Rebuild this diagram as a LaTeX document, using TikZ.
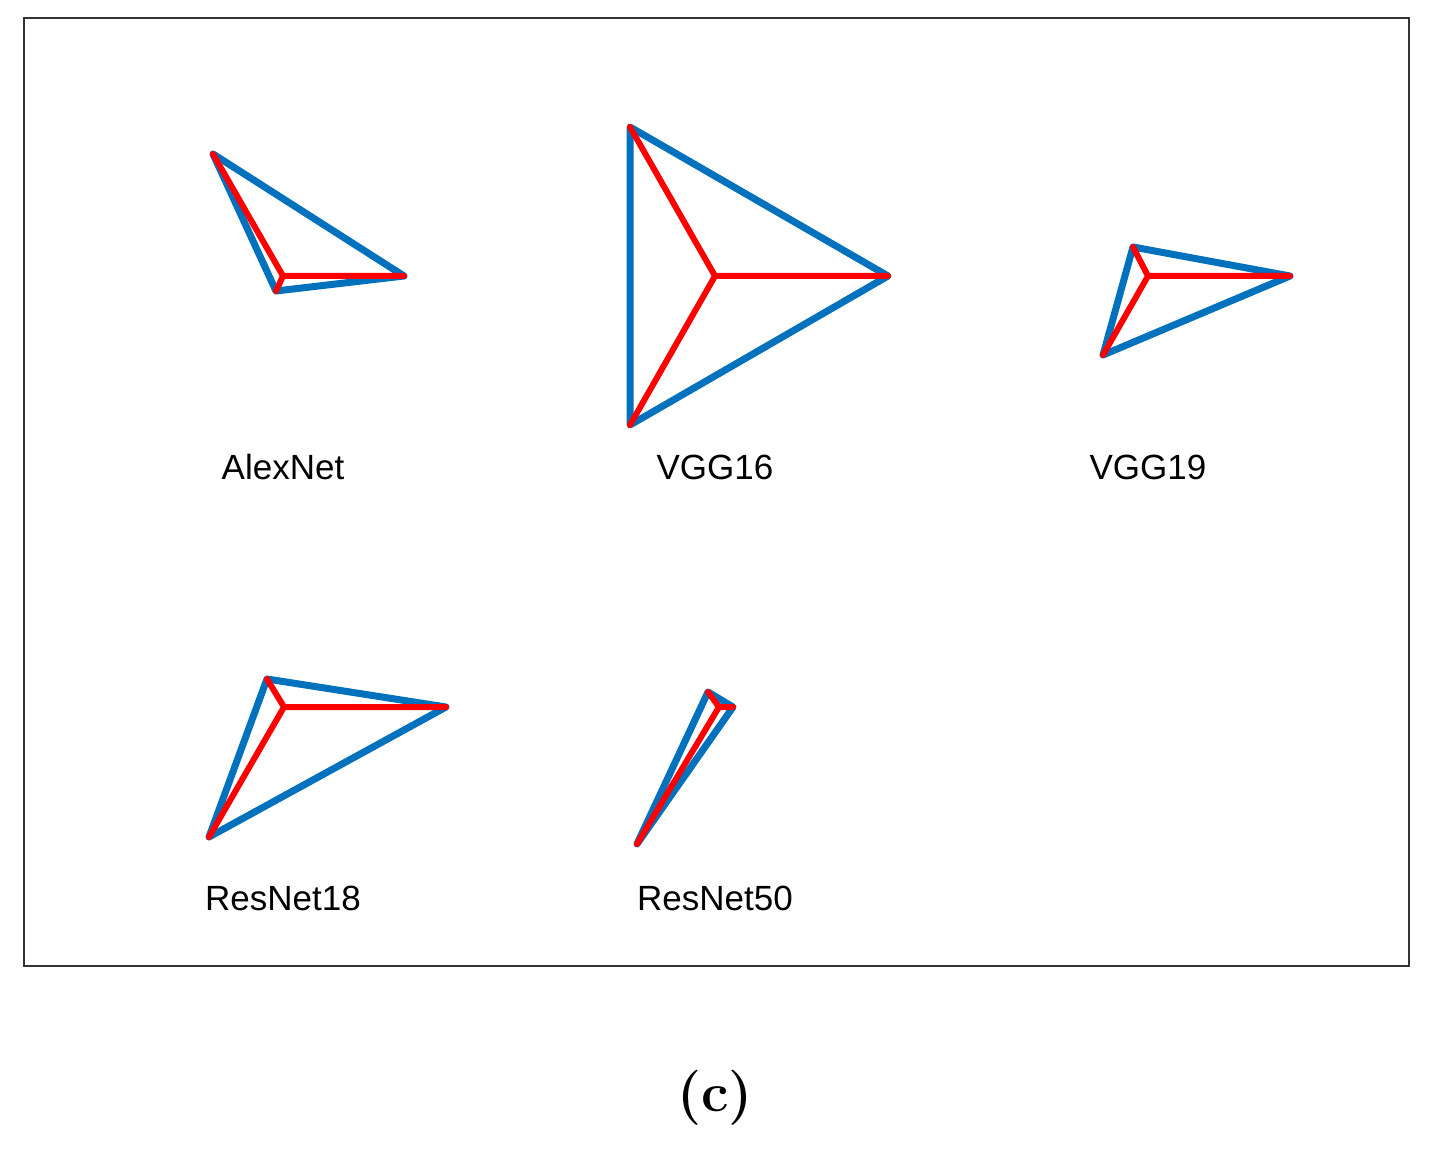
\documentclass[tikz,border=0pt]{standalone}
\usepackage{fontspec}
\newfontfamily\sans{Liberation Sans}
\definecolor{mblue}{RGB}{0,114,189}
\begin{document}
\begin{tikzpicture}[x=1pt,y=-1pt,
  tri/.style={draw=mblue,line width=7pt,line join=round,line cap=round},
  spoke/.style={draw=red,line width=6pt,line cap=round,line join=round},
  lab/.style={font=\sans\fontsize{35}{40}\selectfont,text=black}]
\useasboundingbox (0,0) rectangle (1443,1174);
\draw[line width=2pt,draw=black!80] (24,18) rectangle (1409,966);
% AlexNet
\coordinate (a0) at (283,276); \coordinate (a1) at (213,154); \coordinate (a2) at (404,276); \coordinate (a3) at (276,291);
\draw[tri] (a1)--(a2)--(a3)--cycle;
\draw[spoke] (a1)--(a0)--(a2) (a0)--(a3);
% VGG16
\coordinate (b0) at (715,276); \coordinate (b1) at (630,127); \coordinate (b2) at (888,276); \coordinate (b3) at (630,425);
\draw[tri] (b1)--(b2)--(b3)--cycle;
\draw[spoke] (b1)--(b0)--(b2) (b0)--(b3);
% VGG19
\coordinate (c0) at (1148,276); \coordinate (c1) at (1133,247); \coordinate (c2) at (1290,276); \coordinate (c3) at (1103,355);
\draw[tri] (c1)--(c2)--(c3)--cycle;
\draw[spoke] (c1)--(c0)--(c2) (c0)--(c3);
% ResNet18
\coordinate (d0) at (284,707); \coordinate (d1) at (267,679); \coordinate (d2) at (446,707); \coordinate (d3) at (209,837);
\draw[tri] (d1)--(d2)--(d3)--cycle;
\draw[spoke] (d1)--(d0)--(d2) (d0)--(d3);
% ResNet50
\coordinate (e0) at (719,707); \coordinate (e1) at (708,692); \coordinate (e2) at (733,707); \coordinate (e3) at (637,844);
\draw[tri] (e1)--(e2)--(e3)--cycle;
\draw[spoke] (e1)--(e0)--(e2) (e0)--(e3);
\node[lab] (la) at (283,467) {AlexNet};
\node[lab] (lb) at (715,467) {VGG16};
\node[lab] (lc) at (1148,467) {VGG19};
\node[lab] (ld) at (283,898) {ResNet18};
\node[lab] (le) at (715,898) {ResNet50};
\node[font=\fontsize{55}{60}\selectfont\bfseries] (cap) at (715,1098) {(c)};
\end{tikzpicture}
\end{document}
